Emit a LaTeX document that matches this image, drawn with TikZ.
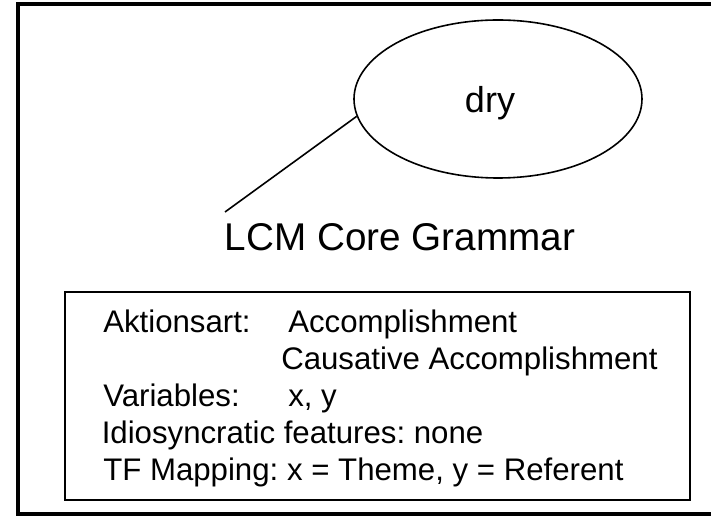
\documentclass[tikz,border=0pt]{standalone}
\usepackage{fontspec}
\setmainfont{Liberation Sans}
\usetikzlibrary{shapes.geometric}
\frenchspacing
\begin{document}
\begin{tikzpicture}[x=0.75pt,y=-0.75pt,
  frameline/.style={line width=3pt},
  thinline/.style={line width=1.2pt},
  rowtext/.style={anchor=base west, inner sep=0pt, font=\fontsize{23.4}{28}\selectfont},
]
\useasboundingbox (0,0) rectangle (711,516);
\clip (0,0) rectangle (711,516);
% heavy outer frame (runs off the right edge)
\draw[frameline] (18,4) rectangle (740,514.5);
% the lexical item in its oval
\node[ellipse, draw, thinline, minimum width=216pt, minimum height=118.5pt, inner sep=0pt] (oval) at (498,99) {};
\node[anchor=base, inner sep=0pt, font=\fontsize{27}{32}\selectfont] (drylbl) at (490,113) {dry};
\coordinate (tail) at (225,212);
\draw[thinline] (tail) -- (oval.187);
% heading
\node[anchor=base, inner sep=0pt, font=\fontsize{29}{34}\selectfont] (title) at (400,251) {LCM Core Grammar};
% feature panel
\node[draw, thinline, inner sep=0pt, outer sep=0pt, minimum width=468.75pt, minimum height=156pt] (panel) at (377.5,396) {};
\node[rowtext] (aktlbl) at (103,333) {Aktionsart:};
\node[rowtext] (aktval) at (288,333) {Accomplishment};
\node[rowtext] (aktval2) at (281,370) {Causative Accomplishment};
\node[rowtext] (varlbl) at (103,407) {Variables:};
\node[rowtext] (varval) at (288,407) {x, y};
\node[rowtext] (idio) at (101.5,444) {Idiosyncratic features: none};
\node[rowtext] (tfmap) at (103,481) {TF Mapping: x = Theme, y = Referent};
\end{tikzpicture}
\end{document}
